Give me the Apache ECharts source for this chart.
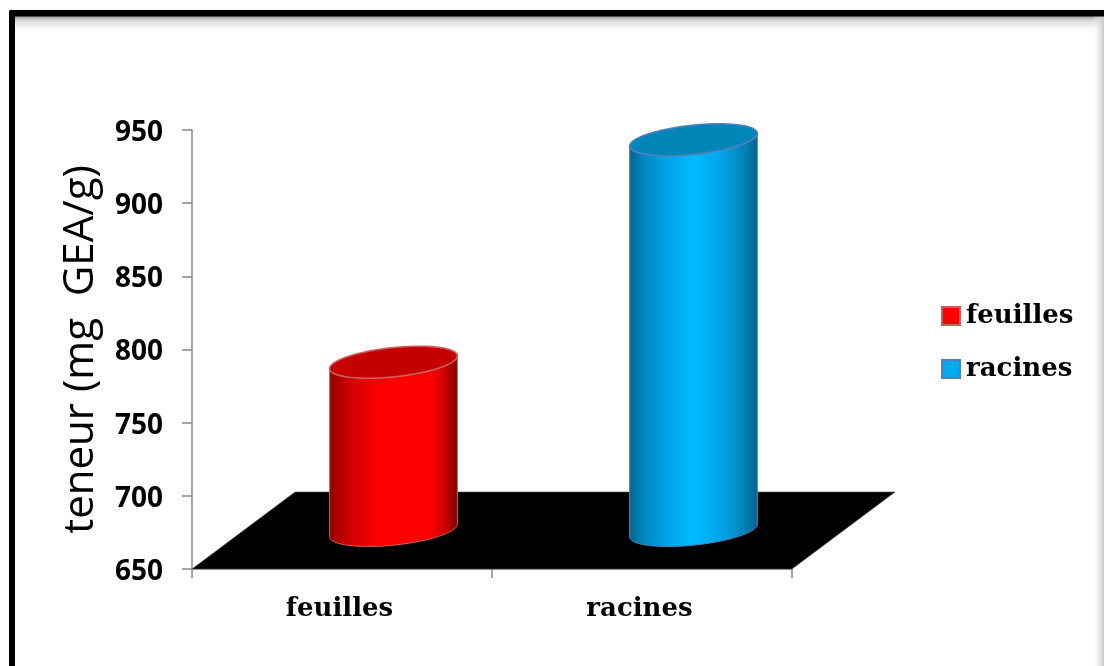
<!DOCTYPE html>
<html>
<head>
<meta charset="utf-8">
<style>html,body{margin:0;padding:0;background:#fff;overflow:hidden}#chart{width:1104px;height:666px}</style>
<script src="https://cdn.jsdelivr.net/npm/echarts@6/dist/echarts.min.js"></script>
</head>
<body>
<div id="chart"></div>
<script>
// Total content per plant organ, in mg GEA/g
const categories = ['feuilles', 'racines'];
const values = [765, 917];
const yTicks = { min: 650, max: 950, step: 50 };
const yTitle = 'teneur (mg  GEA/g)';

const serifFont = '"DejaVu Serif", "Liberation Serif", serif';
const sansFont = '"Open Sans", "Noto Sans", sans-serif';

// Oblique projection of the chart's depth axis, and the cylinder's ellipse
const depth = { x: 103, y: -77 };
const cyl = { a: 64.2, b: 14.6, tilt: -6 * Math.PI / 180 };

const looks = [
  { legend: '#ff0000', edge: '#c9605c', cap: '#c40000',
    side: [[0, '#8e0000'], [0.12, '#c40000'], [0.32, '#f20000'], [0.45, '#ff0000'], [0.78, '#ff0000'], [0.9, '#cc0000'], [1, '#7a0000']] },
  { legend: '#00a9f0', edge: '#4f81bd', cap: '#0085b9',
    side: [[0, '#07628f'], [0.12, '#0088c4'], [0.3, '#00a5e6'], [0.5, '#00baff'], [0.72, '#00a5e6'], [0.9, '#0081b5'], [1, '#05608c']] }
];

function ellipsePoints(cx, cy, from, to, steps) {
  const pts = [];
  const c = Math.cos(cyl.tilt), s = Math.sin(cyl.tilt);
  for (let i = 0; i <= steps; i++) {
    const u = from + (to - from) * i / steps;
    const ex = cyl.a * Math.cos(u), ey = cyl.b * Math.sin(u);
    pts.push([cx + ex * c - ey * s, cy + ex * s + ey * c]);
  }
  return pts;
}

// Angle on the ellipse where it reaches its horizontal extreme
const sideAngle = Math.atan2(-cyl.b * Math.sin(cyl.tilt), cyl.a * Math.cos(cyl.tilt));

function renderCylinder(look) {
  return function (params, api) {
    const top = api.coord([api.value(0), api.value(1)]);
    const base = api.coord([api.value(0), yTicks.min]);
    const cx = top[0] + depth.x / 2;
    const topY = top[1] + depth.y / 2;
    const baseY = base[1] + depth.y / 2;
    // Front half of each ellipse, walked right to left along the rim
    const topRim = ellipsePoints(cx, topY, sideAngle, sideAngle + Math.PI, 48);
    const baseRim = ellipsePoints(cx, baseY, sideAngle, sideAngle + Math.PI, 48);
    const body = topRim.concat(baseRim.reverse());
    return {
      type: 'group',
      children: [
        {
          type: 'polygon',
          shape: { points: body },
          style: {
            fill: {
              type: 'linear', x: 0, y: 0, x2: 1, y2: 0,
              colorStops: look.side.map(s => ({ offset: s[0], color: s[1] }))
            },
            stroke: look.edge, lineWidth: 1
          }
        },
        {
          type: 'polygon',
          shape: { points: ellipsePoints(cx, topY, 0, Math.PI * 2, 96) },
          style: { fill: look.cap, stroke: look.edge, lineWidth: 1.6 }
        }
      ]
    };
  };
}

function renderFloor(params, api) {
  const a = api.coord([categories[0], yTicks.min]);
  const size = api.size([1, 0]);
  const left = a[0] - size[0] / 2;
  const right = left + size[0] * categories.length;
  return {
    type: 'polygon',
    shape: {
      points: [[left, a[1]], [right, a[1]], [right + depth.x, a[1] + depth.y], [left + depth.x, a[1] + depth.y]]
    },
    style: { fill: '#000000', stroke: '#555555', lineWidth: 0.6 }
  };
}

const cylinderSeries = categories.map((name, i) => ({
  name: name,
  type: 'custom',
  z: 3,
  encode: { x: 0, y: 1 },
  itemStyle: { color: looks[i].legend, borderColor: looks[i].edge, borderWidth: 1.5 },
  renderItem: renderCylinder(looks[i]),
  data: [[name, values[i]]]
}));

const chart = echarts.init(document.getElementById('chart'), null, { renderer: 'canvas' });
chart.setOption({
  animation: false,
  backgroundColor: '#ffffff',
  grid: { left: 192, top: 130, width: 600, height: 439, containLabel: false },
  legend: {
    left: 941, top: 303, padding: 0, orient: 'vertical', icon: 'rect',
    itemWidth: 18, itemHeight: 18, itemGap: 27,
    textStyle: { fontFamily: serifFont, fontWeight: 'bold', fontSize: 26, color: '#000', padding: [0, 0, 0, 1] },
    data: categories,
    selectedMode: false
  },
  xAxis: {
    type: 'category',
    data: categories,
    axisLine: { onZero: false, lineStyle: { color: '#868686', width: 1.5 } },
    axisTick: { show: true, alignWithLabel: false, length: 9, lineStyle: { color: '#868686', width: 1.5 } },
    axisLabel: { margin: 27, padding: [0, 5, 0, 0], fontFamily: serifFont, fontWeight: 'bold', fontSize: 26, color: '#000' }
  },
  yAxis: {
    type: 'value',
    min: yTicks.min, max: yTicks.max, interval: yTicks.step,
    name: yTitle,
    nameLocation: 'middle',
    nameGap: 90,
    nameRotate: 90,
    nameTextStyle: { fontFamily: sansFont, fontSize: 42, color: '#000' },
    splitLine: { show: false },
    axisLine: { show: true, lineStyle: { color: '#868686', width: 1.5 } },
    axisTick: { show: true, length: 10, lineStyle: { color: '#868686', width: 1.5 } },
    axisLabel: { margin: 29, verticalAlign: 'top', lineHeight: 6, fontFamily: sansFont, fontWeight: 'bold', fontSize: 28, color: '#000' }
  },
  graphic: [
    // Outer frame with its soft inner shadow along the top and right
    {
      type: 'rect', z: -2, silent: true,
      shape: { x: 15, y: 16, width: 1089, height: 14 },
      style: {
        fill: { type: 'linear', x: 0, y: 0, x2: 0, y2: 1,
          colorStops: [{ offset: 0, color: '#9a9a9a' }, { offset: 0.35, color: '#dddddd' }, { offset: 1, color: '#ffffff' }] }
      }
    },
    {
      type: 'rect', z: -2, silent: true,
      shape: { x: 1092, y: 16, width: 12, height: 650 },
      style: {
        fill: { type: 'linear', x: 0, y: 0, x2: 1, y2: 0,
          colorStops: [{ offset: 0, color: 'rgba(255,255,255,0)' }, { offset: 1, color: 'rgba(200,200,200,1)' }] }
      }
    },
    { type: 'rect', z: -1, silent: true, shape: { x: 9, y: 10, width: 1095, height: 6.5, r: [2, 0, 0, 0] }, style: { fill: '#000' } },
    { type: 'rect', z: -1, silent: true, shape: { x: 9, y: 10, width: 6, height: 656, r: [2, 0, 0, 0] }, style: { fill: '#000' } }
  ],
  series: [
    { name: 'plancher', type: 'custom', z: 1, renderItem: renderFloor, encode: { x: 0, y: 1 }, data: [[categories[0], yTicks.min]] }
  ].concat(cylinderSeries)
});
</script>
</body>
</html>
